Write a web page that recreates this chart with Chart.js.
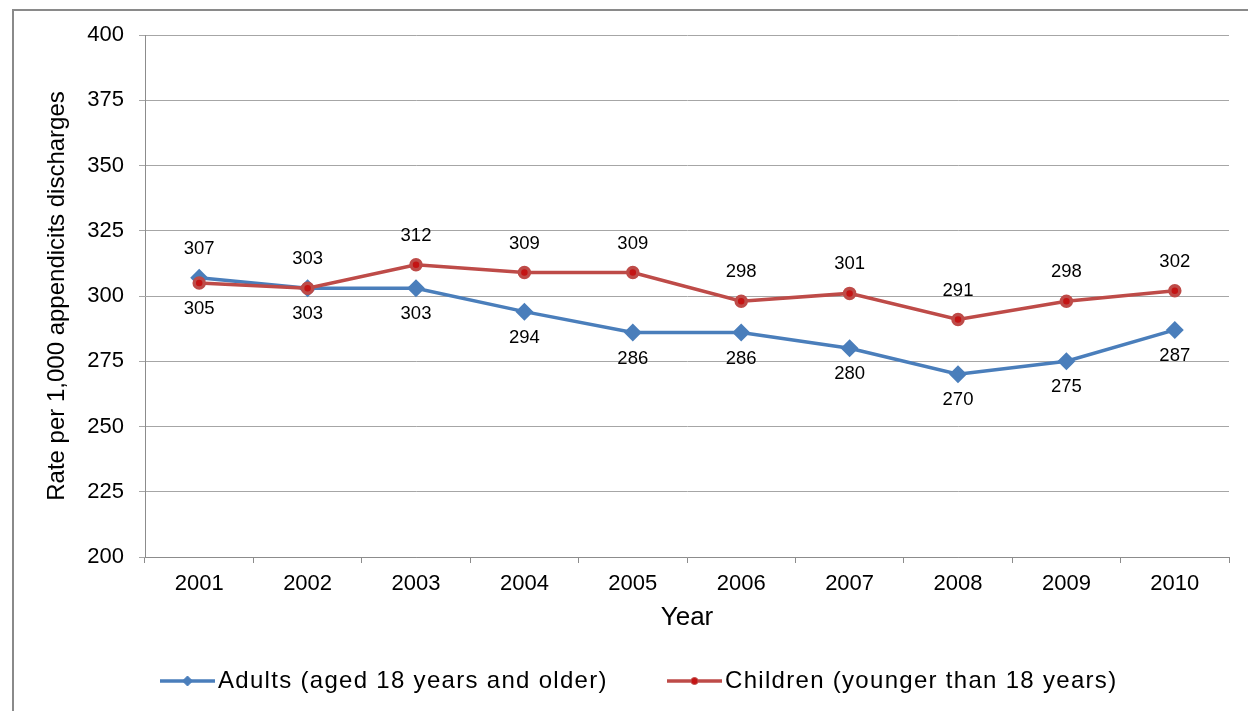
<!DOCTYPE html>
<html>
<head>
<meta charset="utf-8">
<script src="https://cdn.jsdelivr.net/npm/chart.js@4.4.1/dist/chart.umd.min.js"></script>
<style>
  html, body { margin: 0; padding: 0; background: #fff; overflow: hidden; }
  #wrap { position: relative; width: 1248px; height: 711px; overflow: hidden; }
  #frame { position: absolute; left: 12px; top: 9px; width: 1300px; height: 800px; border: 2px solid #8a8a8a; }
  #caption { position: absolute; left: 12px; top: -19px; font: 20px "Liberation Sans", Arial, sans-serif; color: #000; }
  canvas { position: absolute; left: 0; top: 0; }
</style>
</head>
<body>
<div id="wrap">
  <div id="caption">2001–2010</div>
  <div id="frame"></div>
  <canvas id="rateChart" width="1248" height="711"></canvas>
</div>
<script>
const years = ["2001", "2002", "2003", "2004", "2005", "2006", "2007", "2008", "2009", "2010"];
const adults = [307, 303, 303, 294, 286, 286, 280, 270, 275, 287];
const children = [305, 303, 312, 309, 309, 298, 301, 291, 298, 302];
const seriesNames = ["Adults (aged 18 years and older)", "Children (younger than 18 years)"];
const yTicks = [200, 225, 250, 275, 300, 325, 350, 375, 400];

const FONT = "'Liberation Sans', Arial, sans-serif";

// value labels: the higher series gets its label above the point
const valueLabels = {
  id: "valueLabels",
  afterDatasetsDraw(chart) {
    const ctx = chart.ctx;
    ctx.save();
    ctx.font = "18.5px " + FONT;
    ctx.fillStyle = "#000";
    ctx.textAlign = "center";
    ctx.textBaseline = "middle";
    chart.data.datasets.forEach((ds, di) => {
      const meta = chart.getDatasetMeta(di);
      meta.data.forEach((pt, i) => {
        const other = di === 0 ? children[i] : adults[i];
        const above = di === 0 ? ds.data[i] > other : ds.data[i] >= other;
        ctx.fillText(String(ds.data[i]), pt.x, pt.y + (above ? -29 : 26));
      });
    });
    ctx.restore();
  }
};

// legend drawn as line + marker like the original
const lineLegend = {
  id: "lineLegend",
  afterDraw(chart) {
    const ctx = chart.ctx;
    const y = 681;
    const items = [
      { x: 160, ds: chart.data.datasets[0] },
      { x: 667, ds: chart.data.datasets[1] }
    ];
    ctx.save();
    items.forEach(it => {
      const cx = it.x + 27.5;
      ctx.strokeStyle = it.ds.borderColor;
      ctx.lineWidth = 3.5;
      ctx.beginPath();
      ctx.moveTo(it.x, y);
      ctx.lineTo(it.x + 55, y);
      ctx.stroke();
      ctx.fillStyle = it.ds.pointBackgroundColor;
      ctx.strokeStyle = it.ds.pointBorderColor;
      ctx.lineWidth = 1;
      ctx.beginPath();
      const r = it.ds.pointRadius - 1.5;
      if (it.ds.pointStyle === "circle") {
        ctx.arc(cx, y, r, 0, Math.PI * 2);
      } else {
        ctx.moveTo(cx, y - r);
        ctx.lineTo(cx + r, y);
        ctx.lineTo(cx, y + r);
        ctx.lineTo(cx - r, y);
        ctx.closePath();
      }
      ctx.fill();
      ctx.stroke();
      ctx.fillStyle = "#000";
      ctx.font = "24px " + FONT;
      ctx.letterSpacing = "1.3px";
      ctx.textAlign = "left";
      ctx.textBaseline = "middle";
      ctx.fillText(it.ds.label, it.x + 58, y);
      ctx.letterSpacing = "0px";
    });
    ctx.restore();
  }
};

new Chart(document.getElementById("rateChart"), {
  type: "line",
  data: {
    labels: years,
    datasets: [
      {
        label: seriesNames[0],
        data: adults,
        borderColor: "#4a7ebb",
        backgroundColor: "#4a7ebb",
        pointBackgroundColor: "#4a7ebb",
        pointBorderColor: "#4a7ebb",
        pointStyle: "rectRot",
        pointRadius: 6.5,
        borderWidth: 3.5,
        tension: 0,
        order: 2
      },
      {
        label: seriesNames[1],
        data: children,
        borderColor: "#be4b48",
        backgroundColor: "#be4b48",
        pointBackgroundColor: "#c41414",
        pointBorderColor: "#be4b48",
        pointStyle: "circle",
        pointRadius: 5,
        borderWidth: 3.5,
        tension: 0,
        order: 1
      }
    ]
  },
  options: {
    responsive: false,
    animation: false,
    layout: { padding: { left: 0, top: 35, right: 19, bottom: 78 } },
    plugins: {
      legend: { display: false },
      tooltip: { enabled: false }
    },
    scales: {
      x: {
        offset: true,
        afterFit: s => { s.height = 76; },
        grid: { drawOnChartArea: false, drawTicks: true, tickLength: 6, color: "#8c8c8c", offset: true },
        border: { color: "#8c8c8c", width: 1 },
        ticks: { color: "#000", font: { family: FONT, size: 22 }, padding: 8, maxRotation: 0 },
        title: { display: true, text: "Year", color: "#000", font: { family: FONT, size: 26 }, padding: { top: 0, bottom: 0 } }
      },
      y: {
        min: 200,
        max: 400,
        afterFit: s => { s.width = 145; },
        afterBuildTicks: s => { s.ticks = yTicks.map(v => ({ value: v })); },
        grid: { color: "#a6a6a6", lineWidth: 1, tickLength: 6 },
        border: { color: "#8c8c8c", width: 1 },
        ticks: { color: "#000", font: { family: FONT, size: 22 }, padding: 15 },
        title: { display: true, text: "Rate per 1,000 appendicits discharges", color: "#000", font: { family: FONT, size: 24 }, padding: { top: 43, bottom: 0 } }
      }
    }
  },
  plugins: [valueLabels, lineLegend]
});
</script>
</body>
</html>
